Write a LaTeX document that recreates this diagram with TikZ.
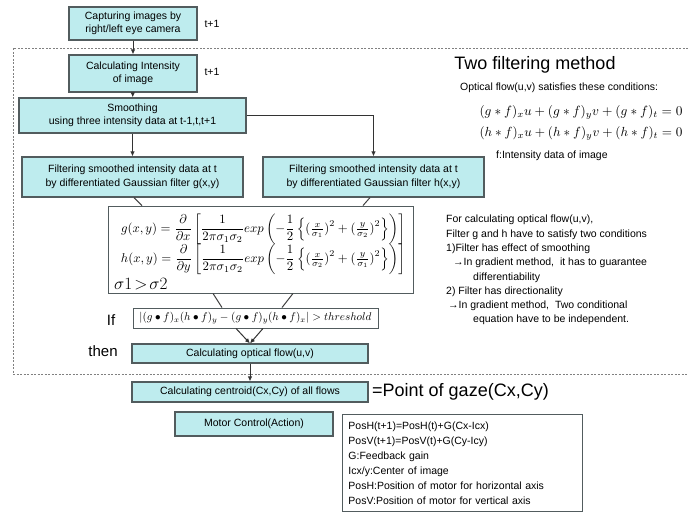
\documentclass[tikz,border=0pt]{standalone}
\usepackage{amsmath}
\usepackage{fontspec}
\setmainfont{Liberation Sans}
\usetikzlibrary{arrows.meta}
\definecolor{boxfill}{RGB}{190,236,238}
\definecolor{boxline}{RGB}{82,92,94}
\tikzset{
  stage/.style={draw=boxline, line width=1.1pt, fill=boxfill, align=center,
    inner sep=0pt, font=\fontsize{10.5}{13.5}\selectfont},
  framebox/.style={draw=boxline, line width=0.9pt, fill=white, inner sep=0pt},
  flow/.style={-{Latex[length=5pt,width=4.5pt]}, line width=1pt, draw=black!80},
  link/.style={line width=1pt, draw=black!75},
  note/.style={font=\fontsize{10.5}{14.3}\selectfont, align=left, inner sep=0pt},
  bigtext/.style={font=\fontsize{18}{20}\selectfont, inner sep=0pt}
}
\begin{document}
\begin{tikzpicture}[x=1pt,y=-1pt]
  \useasboundingbox (0,0) rectangle (688,513);
  % region of the two filtering method
  \draw[gray, line width=0.8pt, dash pattern=on 2pt off 1.5pt]
    (688,48) -- (13,48) -- (13,374) -- (688,374);

  \node[stage, minimum width=128, minimum height=33] (capture) at (133,23.5)
    {Capturing images by\\right/left eye camera};
  \node[note] (tcap) at (212,24) {t+1};
  \node[stage, minimum width=128, minimum height=37] (intensity) at (133,73.5)
    {Calculating Intensity\\of image};
  \node[note] (tint) at (212,72) {t+1};
  \node[stage, minimum width=227, minimum height=35] (smoothing) at (132.5,115.5)
    {Smoothing\\using three intensity data at t-1,t,t+1};
  \node[stage, minimum width=221, minimum height=40] (filterg) at (132.5,177)
    {Filtering smoothed intensity data at t\\by differentiated Gaussian filter g(x,y)};
  \node[stage, minimum width=221, minimum height=40] (filterh) at (373.5,177)
    {Filtering smoothed intensity data at t\\by differentiated Gaussian filter h(x,y)};

  \node[framebox, minimum width=305, minimum height=87] (formula) at (260.5,249.5) {};
  \node[inner sep=0pt] (gline) at (263,229) {\resizebox{284pt}{!}{$\displaystyle
      g(x,y) = \frac{\partial}{\partial x}\left[\frac{1}{2\pi\sigma_1\sigma_2}exp\left(-\frac{1}{2}\left\{(\tfrac{x}{\sigma_1})^2+(\tfrac{y}{\sigma_2})^2\right\}\right)\right]$}};
  \node[inner sep=0pt] (hline) at (263,259) {\resizebox{284pt}{!}{$\displaystyle
      h(x,y) = \frac{\partial}{\partial y}\left[\frac{1}{2\pi\sigma_1\sigma_2}exp\left(-\frac{1}{2}\left\{(\tfrac{x}{\sigma_2})^2+(\tfrac{y}{\sigma_1})^2\right\}\right)\right]$}};
  \node[inner sep=0pt, anchor=west, font=\fontsize{16}{18}\selectfont] (sigrel) at (114,284)
    {$\sigma 1\!>\!\sigma 2$};

  \node[framebox, minimum width=245, minimum height=20] (condition) at (255.5,318)
    {\resizebox{232pt}{!}{$|(g\bullet f)_x(h\bullet f)_y-(g\bullet f)_y(h\bullet f)_x|>threshold$}};
  \node[inner sep=0pt, font=\fontsize{15}{17}\selectfont] (iflabel) at (111,320) {If};
  \node[inner sep=0pt, font=\fontsize{15}{17}\selectfont] (thenlabel) at (103,351) {then};
  \node[stage, minimum width=236, minimum height=19] (optflow) at (250,353.5)
    {Calculating optical flow(u,v)};
  \node[stage, minimum width=236, minimum height=20] (centroid) at (250,392)
    {Calculating centroid(Cx,Cy) of all flows};
  \node[bigtext, anchor=west] (gaze) at (372,392) {=Point of gaze(Cx,Cy)};
  \node[stage, minimum width=158, minimum height=24] (motor) at (254,424)
    {Motor Control(Action)};
  \node[framebox, minimum width=240, minimum height=97, anchor=north west,
    align=left, text width=228pt, inner xsep=6pt, font=\fontsize{10.5}{15}\selectfont]
    (motorlaw) at (342,414)
    {PosH(t+1)=PosH(t)+G(Cx-Icx)\\
     PosV(t+1)=PosV(t)+G(Cy-Icy)\\
     G:Feedback gain\\
     Icx/y:Center of image\\
     PosH:Position of motor for horizontal axis\\
     PosV:Position of motor for vertical axis};

  % two filtering method
  \node[bigtext] (twotitle) at (535,65) {Two filtering method};
  \node[note, anchor=west] (ofcond) at (460,88) {Optical flow(u,v) satisfies these conditions:};
  \node[inner sep=0pt] (eqg) at (581,112)
    {\resizebox{203pt}{!}{$(g\ast f)_x u+(g\ast f)_y v+(g\ast f)_t=0$}};
  \node[inner sep=0pt] (eqh) at (581,133)
    {\resizebox{203pt}{!}{$(h\ast f)_x u+(h\ast f)_y v+(h\ast f)_t=0$}};
  \node[note, anchor=west] (fdef) at (496,156) {f:Intensity data of image};
  \node[note, anchor=north west] (reasons) at (446,215)
    {For calculating optical flow(u,v),\\
     Filter g and h have to satisfy two conditions\\
     1)Filter has effect of smoothing\\
     \hspace*{7pt}→In gradient method,\ \ it has to guarantee\\
     \hspace*{27pt}differentiability\\
     2) Filter has directionality\\
     \hspace*{2pt}→In gradient method,\ \ Two conditional\\
     \hspace*{27pt}equation have to be independent.};

  \draw[flow] (capture) -- (intensity);
  \draw[flow] (intensity) -- (smoothing);
  \draw[flow] (smoothing) -- (filterg);
  \draw[flow] (smoothing.east) -| (filterh.north);
  \draw[link] ([xshift=1.5pt]filterg.south) -- ([xshift=-118.5pt]formula.north);
  \draw[link] ([xshift=-3.5pt]filterh.south) -- ([xshift=102.5pt]formula.north);
  \draw[link] ([xshift=-47.5pt]formula.south) -- ([xshift=-33.5pt]condition.north);
  \draw[link] ([xshift=32.5pt]formula.south) -- ([xshift=26.5pt]condition.north);
  \draw[flow] ([xshift=-19.5pt]condition.south) -- (optflow.north);
  \draw[flow] ([xshift=7.5pt]condition.south) -- (optflow.north);
  \draw[flow] (optflow) -- (centroid);
\end{tikzpicture}
\end{document}
